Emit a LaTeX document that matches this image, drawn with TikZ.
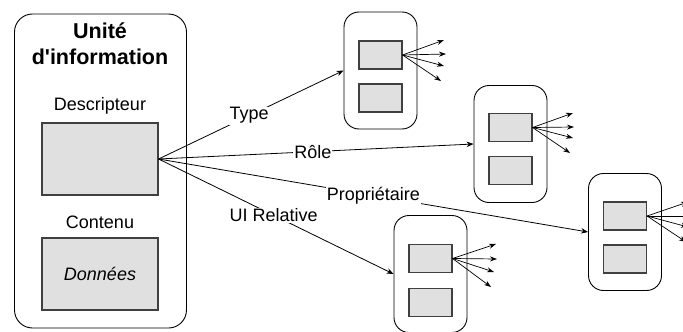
\documentclass[tikz,border=0pt]{standalone}
\usepackage{fontspec}
\setmainfont{Liberation Sans}
\usetikzlibrary{arrows.meta}
\begin{document}
\begin{tikzpicture}[x=1pt,y=-1pt,
  outer/.style={draw=black,line width=0.9pt,rounded corners=15pt,minimum width=73pt,minimum height=117pt,inner sep=0pt},
  inner/.style={draw=black!75,line width=1.1pt,fill=black!12,minimum width=43pt,minimum height=28pt,inner sep=0pt},
  big/.style={draw=black!75,line width=1.1pt,fill=black!12,minimum width=116pt,minimum height=72pt,inner sep=0pt},
  lbl/.style={font=\fontsize{18}{20}\selectfont,inner sep=1pt},
  lab/.style={font=\fontsize{18}{20}\selectfont,fill=white,inner sep=1pt},
  conn/.style={draw=black,line width=0.8pt,-{Stealth[length=7pt,width=5.5pt]}},
  fan/.style={draw=black,line width=0.7pt,-{Stealth[length=7pt,width=5pt]}}]
\useasboundingbox (0,0) rectangle (683,332);
\clip (0,0) rectangle (683,332);
% main box
\node[draw=black,line width=0.9pt,rounded corners=18pt,minimum width=172pt,minimum height=314pt,inner sep=0pt] (main) at (100.5,171) {};
\node[font=\fontsize{21.5}{24}\selectfont\bfseries,align=center] (title) at (100,44) {Unité\\[2pt]d\textquotesingle information};
\node[lbl] (dl) at (100,106) {Descripteur};
\node[big] (desc) at (100,159) {};
\node[lbl] (cl) at (100,222) {Contenu};
\node[big,font=\fontsize{18}{20}\selectfont\itshape] (cont) at (100,274) {Données};
% target boxes
\node[outer] (b1) at (380.5,70.5) {};
\node[inner] (b1a) at (380.5,55) {};
\node[inner] (b1b) at (380.5,98) {};
\node[outer] (b2) at (510.5,144) {};
\node[inner] (b2a) at (510.5,127.5) {};
\node[inner] (b2b) at (510.5,170.5) {};
\node[outer] (b3) at (625,232) {};
\node[inner] (b3a) at (625,216) {};
\node[inner] (b3b) at (625,259) {};
\node[outer] (b4) at (430.5,274) {};
\node[inner] (b4a) at (430.5,258.5) {};
\node[inner] (b4b) at (430.5,302.5) {};
% connectors
\draw[conn] (desc.east) -- node[lab,pos=0.49] {Type} (b1.west);
\draw[conn] (desc.east) -- node[lab,pos=0.49] {Rôle} (b2.west);
\draw[conn] (desc.east) -- node[lab,pos=0.5] {Propriétaire} (b3.west);
\draw[conn] (desc.east) -- node[lab,pos=0.49] {UI Relative} (b4.west);
% fans
\coordinate (f1a) at (444,40); \coordinate (f1b) at (446,54);
\coordinate (f1c) at (444,66); \coordinate (f1d) at (441,81);
\coordinate (f2a) at (573,113); \coordinate (f2b) at (574,127);
\coordinate (f2c) at (573,138); \coordinate (f2d) at (570,153);
\coordinate (f3a) at (688,202); \coordinate (f3b) at (690,216);
\coordinate (f3c) at (688,227); \coordinate (f3d) at (686,242);
\coordinate (f4a) at (496,244); \coordinate (f4b) at (497,259);
\coordinate (f4c) at (494,272); \coordinate (f4d) at (491,287);
\foreach \b in {1,2,3,4}{
  \foreach \t in {a,b,c,d}{
    \draw[fan] (b\b a.east) -- (f\b\t);
  }
}
\end{tikzpicture}
\end{document}
